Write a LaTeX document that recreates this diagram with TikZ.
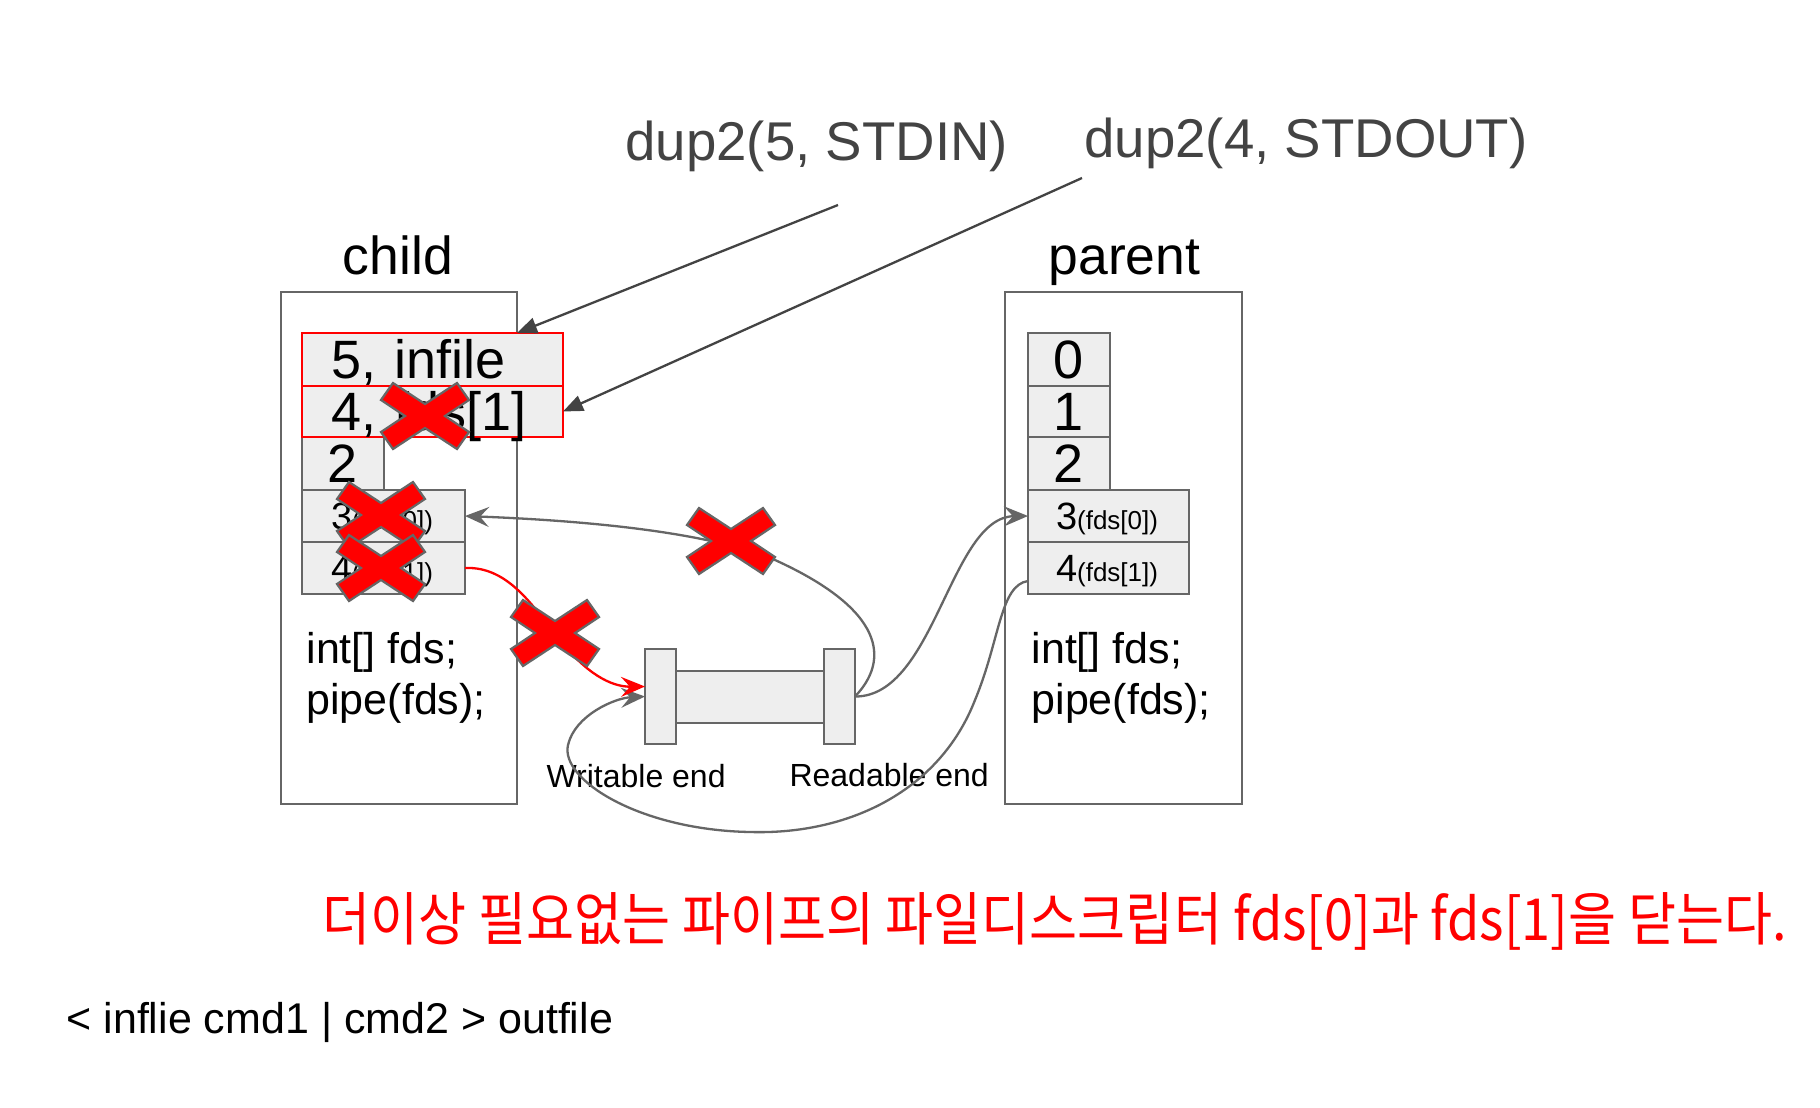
\documentclass[tikz,border=0pt]{standalone}
\usepackage{fontspec}
\setmainfont{Liberation Sans}
\newfontfamily\krfont{Noto Sans CJK KR}
\usetikzlibrary{arrows.meta}
\definecolor{boxgray}{HTML}{666666}
\definecolor{cellfill}{HTML}{EEEEEE}
\definecolor{dupgray}{HTML}{434343}
\definecolor{pured}{HTML}{FF0000}
\newcommand\fdsfont{\fontsize{26}{26}\selectfont}
\tikzset{
  box/.style={draw=boxgray, line width=2.2pt, inner sep=0pt, outer sep=0pt},
  pipepart/.style={draw=boxgray, fill=cellfill, line width=2.2pt, inner sep=0pt, outer sep=0pt},
  cell/.style={draw=boxgray, fill=cellfill, line width=2.2pt, inner sep=0pt, outer sep=0pt,
    font=\fontsize{54}{54}\selectfont, text height=38.7pt, text depth=0pt},
  redcell/.style={cell, draw=pured},
  smallcell/.style={cell, text height=27.2pt, align=left, text width=105pt, font=\fontsize{38}{38}\selectfont},
  title/.style={anchor=base, font=\fontsize{53.5}{53.5}\selectfont},
  duptext/.style={anchor=base west, text=dupgray, font=\fontsize{54.6}{54.6}\selectfont},
  code/.style={anchor=base west, font=\fontsize{43}{43}\selectfont},
  endlabel/.style={anchor=base west, font=\fontsize{32}{32}\selectfont},
  dupline/.style={draw=dupgray, line width=2.3pt, -{Triangle[length=20pt,width=16pt]}},
  conn/.style={draw=boxgray, line width=2.3pt, -{Stealth[length=24pt,width=20pt,inset=9pt]}},
  redconn/.style={conn, draw=pured},
  xmark/.style={fill=pured, draw=boxgray, line width=2.2pt, line join=miter},
  redx/.pic={\draw[xmark] (-44,-16) -- (-32,-33) -- (0,-12) -- (32,-33) -- (44,-16) -- (20,0)
     -- (44,16) -- (32,33) -- (0,12) -- (-32,33) -- (-44,16) -- (-20,0) -- cycle;}
}
\begin{document}
\begin{tikzpicture}[x=1pt,y=-1pt]
\useasboundingbox[fill=white] (0,0) rectangle (1820,1108);

% process boxes
\node[box, minimum width=236pt, minimum height=512pt] (childbox) at (399,548) {};
\node[box, minimum width=237pt, minimum height=512pt] (parentbox) at (1123.5,548) {};
\node[title] (childtitle) at (398,274) {child};
\node[title] (parenttitle) at (1124.5,274) {parent};

% pipe
\node[pipepart, minimum width=148pt, minimum height=52pt] (pbody) at (750,697) {};
\node[pipepart, minimum width=31pt, minimum height=95pt] (lflange) at (660.5,696.5) {};
\node[pipepart, minimum width=31pt, minimum height=95pt] (rflange) at (839.5,696.5) {};
\node[endlabel] (wlabel) at (543,787) {Writable end};
\node[endlabel] (rlabel) at (786,786) {Readable end};

% child table
\node[cell, minimum width=82pt, minimum height=53pt] (cc2) at (343,463.5) {2};
\node[smallcell, minimum height=52pt, inner xsep=29pt] (cc3) at (383.5,516) {3{\fdsfont(fds[0])}};
\node[smallcell, minimum height=52pt, inner xsep=29pt] (cc4b) at (383.5,568) {4{\fdsfont(fds[1])}};
\node[redcell, minimum height=53pt, align=left, text width=203pt, inner xsep=29pt] (cc5) at (432.5,359.5) {5, infile};
\node[redcell, minimum height=51pt, align=left, text width=203pt, inner xsep=29pt] (cc4) at (432.5,411.5) {4, fds[1]};

% parent table
\node[cell, minimum width=82pt, minimum height=53pt] (pc0) at (1069,359.5) {0};
\node[cell, minimum width=82pt, minimum height=51pt] (pc1) at (1069,411.5) {1};
\node[cell, minimum width=82pt, minimum height=53pt] (pc2) at (1069,463.5) {2};
\node[smallcell, minimum height=52pt, inner xsep=28pt] (pc3) at (1108.5,516) {3{\fdsfont(fds[0])}};
\node[smallcell, minimum height=52pt, inner xsep=28pt] (pc4) at (1108.5,568) {4{\fdsfont(fds[1])}};

% code
\node[code] (ccode1) at (303,663) {int[] fds;};
\node[code] (ccode2) at (303,714) {pipe(fds);};
\node[code] (pcode1) at (1028,663) {int[] fds;};
\node[code] (pcode2) at (1028,714) {pipe(fds);};

% dup2 labels and arrows
\node[duptext] (dupin) at (622,160) {dup2(5, STDIN)};
\node[duptext] (dupout) at (1081,157) {dup2(4, STDOUT)};
\coordinate (s1) at (838,205);
\coordinate (s2) at (1082,178);
\draw[dupline] (s1) -- (childbox.east |- cc5.north);
\draw[dupline] (s2) -- (cc4.east);

% pipe connections
\draw[conn] (rflange.east) .. controls (890,660) and (885,610) .. (775,560)
   .. controls (720,537) and (620,522) .. (cc3.east);
\draw[conn] (rflange.east) .. controls (935,697) and (950,517) .. (pc3.west);
\draw[conn] ([yshift=-13pt]pc4.west) .. controls (1000,585) and (1000,640) .. (975,700)
   .. controls (940,790) and (850,835) .. (750,832)
   .. controls (640,830) and (560,780) .. (568,745)
   .. controls (575,715) and (615,698) .. (lflange.west);
\draw[redconn] (cc4b.east) .. controls (510,566) and (535,610) .. (560,640)
   .. controls (585,672) and (610,687) .. ([yshift=10pt]lflange.west);

% crosses
\pic at (425,416) {redx};
\pic at (381,515) {redx};
\pic at (381,568) {redx};
\pic at (731,541) {redx};
\pic at (555,633) {redx};

% notes
\node[anchor=base west, text=pured, font=\krfont\fontsize{58}{58}\selectfont] (note) at (319,940.5)
  {\scalebox{0.9}[1]{더이상 필요없는 파이프의 파일디스크립터 fds[0]과 fds[1]을 닫는다.}};
\node[code] (cmdline) at (63,1033) {< inflie cmd1 | cmd2 > outfile};
\end{tikzpicture}
\end{document}
